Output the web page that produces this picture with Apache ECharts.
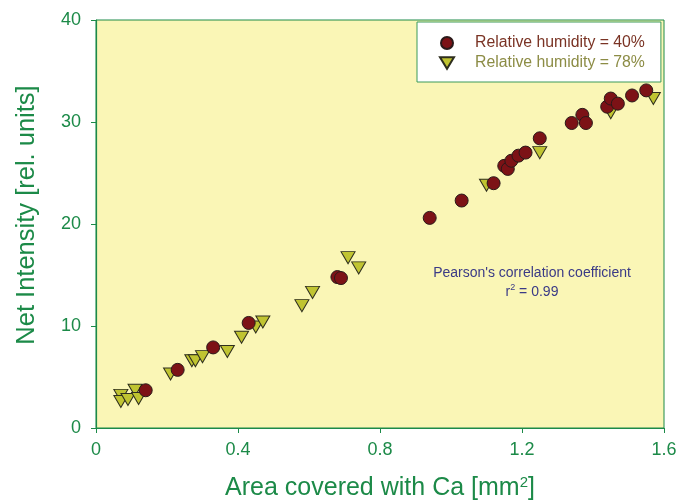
<!DOCTYPE html>
<html>
<head>
<meta charset="utf-8">
<script src="https://cdn.jsdelivr.net/npm/echarts@6/dist/echarts.min.js"></script>
<style>
html,body{margin:0;padding:0;background:#fff;}
#c{width:678px;height:501px;}
</style>
</head>
<body>
<div id="c"></div>
<script>
// Data: [area mm^2, net intensity]
var rh40 = [
  [0.14,3.7],[0.23,5.7],[0.33,7.9],[0.43,10.3],[0.68,14.8],[0.69,14.7],
  [0.94,20.6],[1.03,22.3],[1.12,24.0],[1.15,25.7],[1.16,25.4],[1.17,26.2],
  [1.19,26.7],[1.21,27.0],[1.25,28.4],[1.34,29.9],[1.37,30.7],[1.38,29.9],
  [1.44,31.5],[1.45,32.3],[1.47,31.8],[1.51,32.6],[1.55,33.1]
];
var rh78 = [
  [0.07,3.2],[0.07,2.6],[0.09,2.8],[0.11,3.7],[0.12,2.9],[0.21,5.3],
  [0.27,6.6],[0.28,6.6],[0.30,7.0],[0.37,7.5],[0.41,8.9],[0.45,9.9],
  [0.47,10.4],[0.58,12.0],[0.61,13.3],[0.71,16.7],[0.74,15.7],[1.10,23.8],
  [1.25,27.0],[1.45,30.9],[1.57,32.3]
];
var seriesNames = ['Relative humidity = 40%', 'Relative humidity = 78%'];
var xTickLabels = ['0', '0.4', '0.8', '1.2', '1.6'];
var yTickLabels = ['0', '10', '20', '30', '40'];

var green = '#1C8A48';
var downTri = 'path://M0,0 L12,0 L6,10 Z';

var chart = echarts.init(document.getElementById('c'), null, {renderer: 'canvas'});
chart.setOption({
  animation: false,
  backgroundColor: '#ffffff',
  textStyle: {fontFamily: 'Liberation Sans, Arial, sans-serif'},
  grid: {
    left: 96, right: 14, top: 20, bottom: 73,
    outerBoundsMode: 'none', containLabel: false,
    show: true, backgroundColor: '#FAF6B6', borderColor: green, borderWidth: 1
  },
  xAxis: {
    type: 'value', min: 0, max: 1.6, interval: 0.4,
    name: 'Area covered with Ca [mm{sup|2}]',
    nameLocation: 'middle', nameGap: 47,
    nameTextStyle: {
      color: green, fontSize: 25,
      rich: {sup: {fontSize: 15, verticalAlign: 'top', color: green, padding: [0,0,11,0]}}
    },
    axisLine: {lineStyle: {color: green, width: 1.2}},
    axisTick: {length: 5, lineStyle: {color: green}},
    axisLabel: {
      color: green, fontSize: 18, margin: 13,
      formatter: function (v) { return xTickLabels[Math.round(v / 0.4)]; }
    },
    splitLine: {show: false}
  },
  yAxis: {
    type: 'value', min: 0, max: 40, interval: 10,
    name: 'Net Intensity [rel. units]',
    nameLocation: 'middle', nameGap: 56, nameRotate: 90,
    nameTextStyle: {color: green, fontSize: 25.5, padding: [0, 0, 0, 18]},
    axisLine: {lineStyle: {color: green, width: 1.2}},
    axisTick: {length: 5, lineStyle: {color: green}},
    axisLabel: {
      color: green, fontSize: 18, margin: 15,
      formatter: function (v) { return yTickLabels[Math.round(v / 10)]; }
    },
    splitLine: {show: false}
  },
  legend: {
    orient: 'vertical', left: 417, top: 22,
    padding: [13, 16, 11, 22],
    backgroundColor: '#ffffff', borderColor: '#3A9A5A', borderWidth: 1,
    itemWidth: 14, itemHeight: 12, itemGap: 4,
    textStyle: {fontSize: 15.8, lineHeight: 16, padding: [0, 0, 0, 16]},
    data: [
      {name: seriesNames[0], icon: 'circle', textStyle: {color: '#7A3324'}},
      {name: seriesNames[1], icon: downTri, textStyle: {color: '#8C8C45'}}
    ]
  },
  graphic: [{
    type: 'text', x: 532, y: 264,
    style: {
      text: "Pearson's correlation coefficient\nr{sup|2} = 0.99",
      align: 'center', verticalAlign: 'top',
      fill: '#3A3A86', fontSize: 14, lineHeight: 19,
      fontFamily: 'Liberation Sans, Arial, sans-serif',
      rich: {sup: {fontSize: 9, verticalAlign: 'top', fill: '#3A3A86', padding: [0,0,8,0]}}
    }
  }],
  series: [
    {
      name: seriesNames[1], type: 'scatter', data: rh78,
      symbol: downTri, symbolSize: [14, 12],
      itemStyle: {color: '#C0C431', borderColor: '#2E2E1E', borderWidth: 1, opacity: 1},
      z: 2
    },
    {
      name: seriesNames[0], type: 'scatter', data: rh40,
      symbol: 'circle', symbolSize: 13,
      itemStyle: {color: '#7C1216', borderColor: '#2A1A1A', borderWidth: 1, opacity: 1},
      z: 3
    }
  ]
});
</script>
</body>
</html>
